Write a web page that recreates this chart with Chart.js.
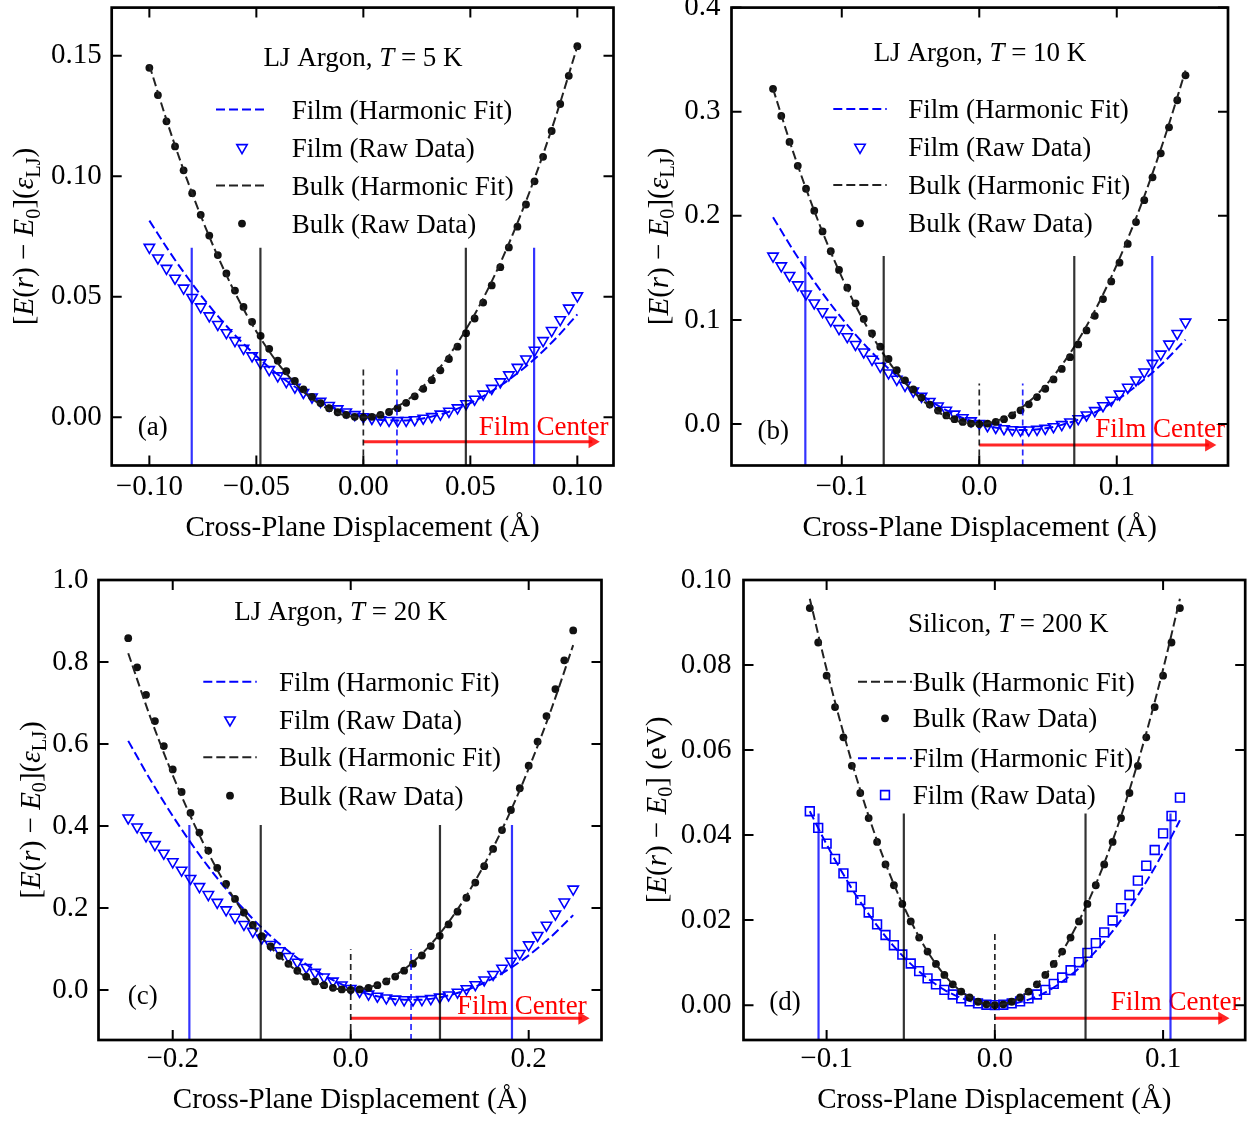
<!DOCTYPE html>
<html>
<head>
<meta charset="utf-8">
<title>Harmonic fits, film vs bulk</title>
<script src="https://cdn.jsdelivr.net/npm/chart.js@4.4.1/dist/chart.umd.min.js"></script>
<style>
  body { margin: 0; background: #fff; }
  #wrap { position: relative; width: 1253px; height: 1122px; }
  canvas { position: absolute; }
</style>
</head>
<body>
<div id="wrap">
  <canvas id="panelA" width="626" height="561" style="left:0;top:0"></canvas>
  <canvas id="panelB" width="627" height="561" style="left:626px;top:0"></canvas>
  <canvas id="panelC" width="626" height="561" style="left:0;top:561px"></canvas>
  <canvas id="panelD" width="627" height="561" style="left:626px;top:561px"></canvas>
</div>
<script>
// ---------- (a) LJ Argon, T = 5 K ----------
const xA = [-0.100,-0.096,-0.092,-0.088,-0.084,-0.080,-0.076,-0.072,-0.068,-0.064,-0.060,-0.056,-0.052,-0.048,-0.044,-0.040,-0.036,-0.032,-0.028,-0.024,-0.020,-0.016,-0.012,-0.008,-0.004,0,0.004,0.008,0.012,0.016,0.020,0.024,0.028,0.032,0.036,0.040,0.044,0.048,0.052,0.056,0.060,0.064,0.068,0.072,0.076,0.080,0.084,0.088,0.092,0.096,0.100];
const bulkRawA = [0.1450,0.1337,0.1228,0.1124,0.1025,0.0930,0.0840,0.0754,0.0673,0.0597,0.0526,0.0458,0.0396,0.0338,0.0284,0.0235,0.0191,0.0151,0.0116,0.0085,0.0059,0.0038,0.0021,0.0010,0.0002,0,0.0002,0.0010,0.0022,0.0038,0.0060,0.0087,0.0118,0.0154,0.0195,0.0242,0.0293,0.0349,0.0410,0.0476,0.0547,0.0623,0.0705,0.0791,0.0883,0.0979,0.1081,0.1188,0.1300,0.1417,0.1540];
const filmRawA = [0.0705,0.0661,0.0618,0.0577,0.0536,0.0497,0.0458,0.0421,0.0385,0.0351,0.0318,0.0286,0.0255,0.0226,0.0198,0.0172,0.0148,0.0125,0.0103,0.0084,0.0066,0.0049,0.0035,0.0022,0.0011,0.0002,-0.0005,-0.0010,-0.0013,-0.0014,-0.0013,-0.0010,-0.0004,0.0003,0.0013,0.0025,0.0039,0.0056,0.0075,0.0096,0.0120,0.0147,0.0176,0.0207,0.0242,0.0278,0.0318,0.0360,0.0405,0.0453,0.0504];
const fitXA = [-0.10,-0.09,-0.08,-0.07,-0.06,-0.05,-0.04,-0.03,-0.02,-0.01,0,0.01,0.02,0.03,0.04,0.05,0.06,0.07,0.08,0.09,0.10];
const bulkFitA = [0.1461,0.1180,0.0929,0.0708,0.0517,0.0356,0.0225,0.0124,0.0052,0.0011,0.0000,0.0019,0.0068,0.0147,0.0256,0.0395,0.0564,0.0763,0.0991,0.1250,0.1539];
const filmFitA = [0.0816,0.0679,0.0554,0.0441,0.0341,0.0254,0.0178,0.0115,0.0065,0.0027,0.0001,-0.0012,-0.0013,-0.0001,0.0023,0.0059,0.0108,0.0169,0.0242,0.0328,0.0427];
const xTicksA = [-0.10, -0.05, 0.00, 0.05, 0.10];
const xLabelsA = ['\u22120.10', '\u22120.05', '0.00', '0.05', '0.10'];
const yTicksA = [0.00, 0.05, 0.10, 0.15];
const yLabelsA = ['0.00', '0.05', '0.10', '0.15'];
const filmEdgeA = [-0.0802, 0.0798];
const bulkEdgeA = [-0.0481, 0.0479];
const centersA = [0, 0.0157];   // bulk center, film center

// ---------- (b) LJ Argon, T = 10 K ----------
const xB = [-0.150,-0.144,-0.138,-0.132,-0.126,-0.120,-0.114,-0.108,-0.102,-0.096,-0.090,-0.084,-0.078,-0.072,-0.066,-0.060,-0.054,-0.048,-0.042,-0.036,-0.030,-0.024,-0.018,-0.012,-0.006,0,0.006,0.012,0.018,0.024,0.030,0.036,0.042,0.048,0.054,0.060,0.066,0.072,0.078,0.084,0.090,0.096,0.102,0.108,0.114,0.120,0.126,0.132,0.138,0.144,0.150];
const bulkRawB = [0.322,0.296,0.271,0.248,0.226,0.205,0.185,0.166,0.148,0.131,0.116,0.101,0.087,0.0743,0.0625,0.0517,0.0420,0.0332,0.0254,0.0187,0.0130,0.0083,0.0047,0.0021,0.0005,0,0.0005,0.0021,0.0047,0.0084,0.0132,0.0190,0.0259,0.0339,0.0429,0.0530,0.0642,0.0765,0.0899,0.104,0.120,0.137,0.155,0.173,0.194,0.215,0.237,0.260,0.285,0.311,0.335];
const filmRawB = [0.1613,0.1519,0.1427,0.1337,0.1249,0.1163,0.1079,0.0996,0.0917,0.0839,0.0764,0.0692,0.0622,0.0555,0.0491,0.0430,0.0372,0.0317,0.0266,0.0217,0.0173,0.0132,0.0095,0.0061,0.0031,0.0006,-0.0016,-0.0033,-0.0045,-0.0054,-0.0058,-0.0057,-0.0051,-0.0041,-0.0026,-0.0005,0.0020,0.0051,0.0087,0.0129,0.0176,0.0229,0.0288,0.0353,0.0423,0.0500,0.0583,0.0672,0.0768,0.0870,0.0979];
const fitXB = [-0.150,-0.135,-0.120,-0.105,-0.090,-0.075,-0.060,-0.045,-0.030,-0.015,0,0.015,0.030,0.045,0.060,0.075,0.090,0.105,0.120,0.135,0.150];
const bulkFitB = [0.3220,0.2600,0.2047,0.1560,0.1138,0.0783,0.0495,0.0272,0.0115,0.0025,0.0001,0.0042,0.0151,0.0325,0.0565,0.0872,0.1244,0.1683,0.2188,0.2759,0.3396];
const filmFitB = [0.1987,0.1663,0.1367,0.1099,0.0859,0.0647,0.0462,0.0306,0.0177,0.0077,0.0004,-0.0041,-0.0058,-0.0047,-0.0008,0.0059,0.0153,0.0276,0.0427,0.0605,0.0811];
const xTicksB = [-0.1, 0.0, 0.1];
const xLabelsB = ['\u22120.1', '0.0', '0.1'];
const yTicksB = [0.0, 0.1, 0.2, 0.3, 0.4];
const yLabelsB = ['0.0', '0.1', '0.2', '0.3', '0.4'];
const filmEdgeB = [-0.1265, 0.1258];
const bulkEdgeB = [-0.0695, 0.0691];
const centersB = [0, 0.0316];

// ---------- (c) LJ Argon, T = 20 K ----------
const xC = [-0.25,-0.24,-0.23,-0.22,-0.21,-0.20,-0.19,-0.18,-0.17,-0.16,-0.15,-0.14,-0.13,-0.12,-0.11,-0.10,-0.09,-0.08,-0.07,-0.06,-0.05,-0.04,-0.03,-0.02,-0.01,0,0.01,0.02,0.03,0.04,0.05,0.06,0.07,0.08,0.09,0.10,0.11,0.12,0.13,0.14,0.15,0.16,0.17,0.18,0.19,0.20,0.21,0.22,0.23,0.24,0.25];
const bulkRawC = [0.858,0.787,0.720,0.656,0.595,0.538,0.483,0.432,0.384,0.340,0.298,0.259,0.222,0.189,0.159,0.131,0.106,0.0835,0.0638,0.0469,0.0325,0.0208,0.0117,0.0052,0.0013,0,0.0013,0.0052,0.0117,0.0209,0.0327,0.0471,0.0642,0.0841,0.107,0.132,0.160,0.191,0.225,0.262,0.302,0.344,0.390,0.439,0.492,0.547,0.606,0.668,0.734,0.804,0.877];
const filmRawC = [0.4195,0.3977,0.3760,0.3546,0.3335,0.3127,0.2922,0.2720,0.2522,0.2328,0.2138,0.1953,0.1773,0.1598,0.1429,0.1266,0.1109,0.0958,0.0815,0.0678,0.0550,0.0430,0.0318,0.0215,0.0121,0.0037,-0.0037,-0.0101,-0.0153,-0.0194,-0.0223,-0.0240,-0.0244,-0.0234,-0.0211,-0.0174,-0.0122,-0.0054,0.0029,0.0129,0.0245,0.0379,0.0531,0.0701,0.0891,0.1100,0.1329,0.1579,0.1851,0.2145,0.2461];
const fitXC = [-0.250,-0.225,-0.200,-0.175,-0.150,-0.125,-0.100,-0.075,-0.050,-0.025,0,0.025,0.050,0.075,0.100,0.125,0.150,0.175,0.200,0.225,0.250];
const bulkFitC = [0.8213,0.6644,0.5241,0.4004,0.2933,0.2029,0.1290,0.0719,0.0313,0.0073,0.0000,0.0093,0.0353,0.0778,0.1370,0.2128,0.3053,0.4143,0.5400,0.6823,0.8413];
const filmFitC = [0.6076,0.5122,0.4245,0.3447,0.2726,0.2084,0.1520,0.1034,0.0626,0.0297,0.0045,-0.0128,-0.0224,-0.0241,-0.0180,-0.0041,0.0176,0.0472,0.0845,0.1297,0.1826];
const xTicksC = [-0.2, 0.0, 0.2];
const xLabelsC = ['\u22120.2', '0.0', '0.2'];
const yTicksC = [0.0, 0.2, 0.4, 0.6, 0.8, 1.0];
const yLabelsC = ['0.0', '0.2', '0.4', '0.6', '0.8', '1.0'];
const filmEdgeC = [-0.1813, 0.1812];
const bulkEdgeC = [-0.1011, 0.1003];
const centersC = [0, 0.0678];

// ---------- (d) Silicon, T = 200 K ----------
const xD = [-0.110,-0.105,-0.100,-0.095,-0.090,-0.085,-0.080,-0.075,-0.070,-0.065,-0.060,-0.055,-0.050,-0.045,-0.040,-0.035,-0.030,-0.025,-0.020,-0.015,-0.010,-0.005,0,0.005,0.010,0.015,0.020,0.025,0.030,0.035,0.040,0.045,0.050,0.055,0.060,0.065,0.070,0.075,0.080,0.085,0.090,0.095,0.100,0.105,0.110];
const bulkRawD = [0.0934,0.0853,0.0775,0.0701,0.0630,0.0563,0.0499,0.0440,0.0384,0.0331,0.0282,0.0238,0.0197,0.0159,0.0126,0.0097,0.0071,0.0049,0.0032,0.0018,0.0008,0.0002,0,0.0002,0.0008,0.0018,0.0032,0.0049,0.0071,0.0097,0.0126,0.0159,0.0197,0.0238,0.0282,0.0331,0.0384,0.0440,0.0499,0.0563,0.0630,0.0701,0.0775,0.0853,0.0934];
const filmRawD = [0.0456,0.0417,0.0380,0.0344,0.0310,0.0278,0.0247,0.0218,0.0190,0.0165,0.0141,0.0119,0.0098,0.0080,0.0063,0.0049,0.0036,0.0025,0.0016,0.0009,0.0004,0.0001,0,0.0001,0.0004,0.0009,0.0016,0.0025,0.0036,0.0050,0.0065,0.0082,0.0101,0.0123,0.0146,0.0171,0.0199,0.0228,0.0259,0.0293,0.0328,0.0365,0.0404,0.0445,0.0488];
const fitXD = [-0.11,-0.10,-0.09,-0.08,-0.07,-0.06,-0.05,-0.04,-0.03,-0.02,-0.01,0,0.01,0.02,0.03,0.04,0.05,0.06,0.07,0.08,0.09,0.10,0.11];
const bulkFitD = [0.0956,0.0790,0.0640,0.0506,0.0387,0.0284,0.0198,0.0126,0.0071,0.0032,0.0008,0,0.0008,0.0032,0.0071,0.0126,0.0198,0.0284,0.0387,0.0506,0.0640,0.0790,0.0956];
const filmFitD = [0.0456,0.0378,0.0307,0.0243,0.0187,0.0138,0.0097,0.0063,0.0036,0.0017,0.0005,0.0000,0.0003,0.0013,0.0030,0.0055,0.0087,0.0127,0.0174,0.0228,0.0290,0.0359,0.0435];
const xTicksD = [-0.1, 0.0, 0.1];
const xLabelsD = ['\u22120.1', '0.0', '0.1'];
const yTicksD = [0.00, 0.02, 0.04, 0.06, 0.08, 0.10];
const yLabelsD = ['0.00', '0.02', '0.04', '0.06', '0.08', '0.10'];
const filmEdgeD = [-0.1048, 0.1044];
const bulkEdgeD = [-0.0541, 0.0539];
const centersD = [0];

const SERIF = '"Liberation Serif", "Times New Roman", serif';
const BLUE = '#0000ff';
const TXT = 27;   // legend, in-plot title and notes
const LJ_LABEL = [{t: '['}, {t: 'E', it: 1}, {t: '('}, {t: 'r', it: 1}, {t: ') \u2212 '}, {t: 'E', it: 1}, {t: '0', sub: 1}, {t: ']('}, {t: '\u03b5', it: 1}, {t: 'LJ', sub: 1}, {t: ')'}];
const SI_LABEL = [{t: '['}, {t: 'E', it: 1}, {t: '('}, {t: 'r', it: 1}, {t: ') \u2212 '}, {t: 'E', it: 1}, {t: '0', sub: 1}, {t: '] (eV)'}];
const LJ_ROWS = ['Film (Harmonic Fit)', 'Film (Raw Data)', 'Bulk (Harmonic Fit)', 'Bulk (Raw Data)'];
const SI_ROWS = ['Bulk (Harmonic Fit)', 'Bulk (Raw Data)', 'Film (Harmonic Fit)', 'Film (Raw Data)'];

function font(size, italic) {
  return (italic ? 'italic ' : '') + size + 'px ' + SERIF;
}

function drawRich(ctx, parts, x, y, size) {
  ctx.textAlign = 'left';
  ctx.textBaseline = 'alphabetic';
  let w = 0;
  parts.forEach(p => { ctx.font = font(p.sub ? size * 0.7 : size, p.it); w += ctx.measureText(p.t).width; });
  let cx = x - w / 2;
  parts.forEach(p => {
    ctx.font = font(p.sub ? size * 0.7 : size, p.it);
    ctx.fillText(p.t, cx, y + (p.sub ? size * 0.22 : 0));
    cx += ctx.measureText(p.t).width;
  });
}

// same geometry as the library's point styles, used for the legend handles
function drawMarker(ctx, d, x, y) {
  const r = d.pointRadius, rad = (d.pointRotation || 0) * Math.PI / 180;
  ctx.save();
  ctx.beginPath();
  if (d.pointStyle === 'triangle') {
    let a = rad;
    ctx.moveTo(x + Math.sin(a) * r, y - Math.cos(a) * r);
    a += 2 * Math.PI / 3;
    ctx.lineTo(x + Math.sin(a) * r, y - Math.cos(a) * r);
    a += 2 * Math.PI / 3;
    ctx.lineTo(x + Math.sin(a) * r, y - Math.cos(a) * r);
    ctx.closePath();
  } else if (d.pointStyle === 'rect') {
    const s = r * Math.SQRT1_2;
    ctx.rect(x - s, y - s, 2 * s, 2 * s);
  } else {
    ctx.arc(x, y, r, 0, 2 * Math.PI);
  }
  ctx.fillStyle = d.pointBackgroundColor;
  ctx.fill();
  if (d.pointBorderWidth > 0) {
    ctx.lineWidth = d.pointBorderWidth;
    ctx.strokeStyle = d.pointBorderColor;
    ctx.stroke();
  }
  ctx.restore();
}

function makeDecor(cfg) {
  return {
    id: 'decor' + cfg.id,
    beforeDatasetsDraw(chart) {
      const {ctx, chartArea: a} = chart;
      ctx.save();
      ctx.fillStyle = '#ff0000';
      ctx.font = font(TXT);
      ctx.textAlign = 'right';
      ctx.textBaseline = 'alphabetic';
      ctx.fillText('Film Center', a.right + cfg.fcPos[0], a.bottom + cfg.fcPos[1]);
      ctx.restore();
    },
    afterDatasetsDraw(chart) {
      const {ctx, chartArea: a, scales} = chart;
      ctx.save();
      // box
      ctx.strokeStyle = '#000';
      ctx.lineWidth = 2.7;
      ctx.strokeRect(a.left, a.top, a.right - a.left, a.bottom - a.top);
      // ticks pointing in, all four sides
      ctx.lineWidth = 2;
      ctx.beginPath();
      cfg.xTicks.forEach(v => {
        const px = scales.x.getPixelForValue(v);
        ctx.moveTo(px, a.bottom); ctx.lineTo(px, a.bottom - 10);
        ctx.moveTo(px, a.top); ctx.lineTo(px, a.top + 10);
      });
      cfg.yTicks.forEach(v => {
        const py = scales.y.getPixelForValue(v);
        ctx.moveTo(a.left, py); ctx.lineTo(a.left + 10, py);
        ctx.moveTo(a.right, py); ctx.lineTo(a.right - 10, py);
      });
      ctx.stroke();

      ctx.fillStyle = '#000';
      ctx.font = font(TXT);
      ctx.textAlign = 'center';
      ctx.textBaseline = 'alphabetic';
      ctx.fillText(cfg.letter, a.left + cfg.letterPos[0], a.bottom + cfg.letterPos[1]);

      drawRich(ctx, cfg.title, a.left + cfg.titlePos[0], a.top + cfg.titlePos[1], TXT);

      // legend, styled from the datasets themselves
      const lg = cfg.legend;
      lg.rows.forEach((name, i) => {
        const d = chart.data.datasets.find(s => s.label === name);
        const y = a.top + lg.y[i];
        if (d.showLine) {
          ctx.save();
          ctx.strokeStyle = d.borderColor;
          ctx.lineWidth = d.borderWidth;
          ctx.setLineDash(d.borderDash);
          ctx.beginPath();
          ctx.moveTo(a.left + lg.h0, y);
          ctx.lineTo(a.left + lg.h1, y);
          ctx.stroke();
          ctx.restore();
        } else {
          drawMarker(ctx, d, a.left + (lg.h0 + lg.h1) / 2, y);
        }
        ctx.fillStyle = '#000';
        ctx.font = font(TXT);
        ctx.textAlign = 'left';
        ctx.fillText(name, a.left + lg.tx, y + 0.33 * TXT);
      });

      // y axis title (mixed italic / subscript)
      ctx.translate(a.left + cfg.yTitleX, (a.top + a.bottom) / 2);
      ctx.rotate(-Math.PI / 2);
      drawRich(ctx, cfg.yTitle, 0, 0.33 * 29, 29);
      ctx.restore();
    }
  };
}

function pts(xs, ys) {
  return xs.map((x, i) => ({x: x, y: ys[i]}));
}

function buildPanel(cfg) {
  const yMin = cfg.yRange[0];
  const ds = [];
  const vline = (x, top, color, dashed) => ({
    label: '', data: [{x: x, y: yMin}, {x: x, y: top}], showLine: true,
    borderColor: color, borderWidth: dashed ? 1.7 : 2.2, borderDash: dashed ? [6, 4] : [],
    pointRadius: 0
  });
  cfg.filmEdge.forEach(x => ds.push(vline(x, cfg.edgeTop, 'rgba(0,0,255,0.8)', false)));
  cfg.bulkEdge.forEach(x => ds.push(vline(x, cfg.edgeTop, 'rgba(0,0,0,0.8)', false)));
  ds.push(vline(cfg.centers[0], cfg.centerTop, 'rgba(0,0,0,0.85)', true));
  if (cfg.centers.length > 1) ds.push(vline(cfg.centers[1], cfg.centerTop, 'rgba(0,0,255,0.85)', true));

  // film centre arrow
  ds.push({
    label: '', data: [{x: cfg.arrowX[0], y: cfg.arrowY}, {x: cfg.arrowX[1], y: cfg.arrowY}],
    showLine: true, borderColor: 'rgba(255,0,0,0.85)', borderWidth: 3,
    pointRadius: [0, 7.5], pointStyle: 'triangle', pointRotation: 90,
    pointBackgroundColor: 'rgba(255,0,0,0.85)', pointBorderWidth: 0
  });

  ds.push({
    label: 'Bulk (Harmonic Fit)', data: pts(cfg.fitX, cfg.bulkFit), showLine: true,
    borderColor: '#222', borderWidth: 2, borderDash: [9, 4], pointRadius: 0,
    cubicInterpolationMode: 'monotone'
  });
  ds.push({
    label: 'Bulk (Raw Data)', data: pts(cfg.x, cfg.bulkRaw), showLine: false,
    pointStyle: 'circle', pointRadius: 3.9, pointRotation: 0,
    pointBackgroundColor: '#111', pointBorderColor: '#111', pointBorderWidth: 0
  });
  ds.push({
    label: 'Film (Harmonic Fit)', data: pts(cfg.fitX, cfg.filmFit), showLine: true,
    borderColor: BLUE, borderWidth: 2, borderDash: [9, 4], pointRadius: 0,
    cubicInterpolationMode: 'monotone'
  });
  const tri = cfg.filmMarker === 'triangle';
  ds.push({
    label: 'Film (Raw Data)', data: pts(cfg.x, cfg.filmRaw), showLine: false,
    pointStyle: cfg.filmMarker, pointRotation: tri ? 180 : 0, pointRadius: tri ? 6 : 6.2,
    pointBackgroundColor: 'rgba(0,0,0,0)', pointBorderColor: BLUE, pointBorderWidth: 1.6
  });

  return new Chart(document.getElementById(cfg.id), {
    type: 'scatter',
    data: {datasets: ds},
    options: {
      responsive: false,
      animation: false,
      devicePixelRatio: 1,
      events: [],
      layout: {padding: {left: 0, top: cfg.pad[0], right: cfg.pad[1], bottom: 0}},
      plugins: {legend: {display: false}, tooltip: {enabled: false}},
      scales: {
        x: {
          type: 'linear', min: cfg.xRange[0], max: cfg.xRange[1],
          grid: {display: false, drawTicks: false},
          border: {display: false},
          afterBuildTicks: s => { s.ticks = cfg.xTicks.map(v => ({value: v})); },
          afterFit: s => { s.height = cfg.xH; s.paddingLeft = 0; s.paddingRight = 0; },
          ticks: {
            autoSkip: false, maxRotation: 0, minRotation: 0, padding: cfg.xPad, color: '#000',
            font: {family: SERIF, size: 29},
            callback: (v, i) => cfg.xLabels[i]
          },
          title: {
            display: true, text: 'Cross-Plane Displacement (\u00c5)', color: '#000',
            font: {family: SERIF, size: 29}, padding: {top: 0, bottom: cfg.titlePad}
          }
        },
        y: {
          type: 'linear', min: cfg.yRange[0], max: cfg.yRange[1],
          grid: {display: false, drawTicks: false},
          border: {display: false},
          afterBuildTicks: s => { s.ticks = cfg.yTicks.map(v => ({value: v})); },
          afterFit: s => { s.width = cfg.yW; s.paddingTop = 0; s.paddingBottom = 0; },
          ticks: {
            autoSkip: false, padding: cfg.yPad, color: '#000',
            font: {family: SERIF, size: 29},
            callback: (v, i) => cfg.yLabels[i]
          }
        }
      }
    },
    plugins: [makeDecor(cfg)]
  });
}

buildPanel({
  id: 'panelA', x: xA, bulkRaw: bulkRawA, filmRaw: filmRawA, fitX: fitXA, bulkFit: bulkFitA, filmFit: filmFitA,
  xRange: [-0.1176, 0.1169], yRange: [-0.0200, 0.170],
  xTicks: xTicksA, xLabels: xLabelsA, yTicks: yTicksA, yLabels: yLabelsA,
  filmEdge: filmEdgeA, bulkEdge: bulkEdgeA, centers: centersA, edgeTop: 0.0704, centerTop: 0.0199,
  arrowX: [0, 0.107], arrowY: -0.0101, filmMarker: 'triangle',
  pad: [7, 12.5], yW: 111.7, xH: 95.5, xPad: 4, yPad: 10, titlePad: 15,
  fcPos: [-5, -30.5], letter: '(a)', letterPos: [41, -31],
  title: [{t: 'LJ Argon, '}, {t: 'T', it: 1}, {t: ' = 5 K'}], titlePos: [251.3, 58.3],
  legend: {rows: LJ_ROWS, y: [102, 140, 178, 216], h0: 104.3, h1: 156.3, tx: 180},
  yTitle: LJ_LABEL, yTitleX: -88
});

buildPanel({
  id: 'panelB', x: xB, bulkRaw: bulkRawB, filmRaw: filmRawB, fitX: fitXB, bulkFit: bulkFitB, filmFit: filmFitB,
  xRange: [-0.1802, 0.1809], yRange: [-0.0398, 0.4],
  xTicks: xTicksB, xLabels: xLabelsB, yTicks: yTicksB, yLabels: yLabelsB,
  filmEdge: filmEdgeB, bulkEdge: bulkEdgeB, centers: centersB, edgeTop: 0.1615, centerTop: 0.039,
  arrowX: [0, 0.167], arrowY: -0.0202, filmMarker: 'triangle',
  pad: [7, 25], yW: 105.5, xH: 95.5, xPad: 4, yPad: 11, titlePad: 15,
  fcPos: [-3, -28.5], letter: '(b)', letterPos: [41.8, -27],
  title: [{t: 'LJ Argon, '}, {t: 'T', it: 1}, {t: ' = 10 K'}], titlePos: [248.5, 53.3],
  legend: {rows: LJ_ROWS, y: [101.3, 139.7, 177.3, 215.7], h0: 101.8, h1: 155.2, tx: 176.8},
  yTitle: LJ_LABEL, yTitleX: -73.5
});

buildPanel({
  id: 'panelC', x: xC, bulkRaw: bulkRawC, filmRaw: filmRawC, fitX: fitXC, bulkFit: bulkFitC, filmFit: filmFitC,
  xRange: [-0.2834, 0.2818], yRange: [-0.122, 1.0],
  xTicks: xTicksC, xLabels: xLabelsC, yTicks: yTicksC, yLabels: yLabelsC,
  filmEdge: filmEdgeC, bulkEdge: bulkEdgeC, centers: centersC, edgeTop: 0.4024, centerTop: 0.0992,
  arrowX: [0, 0.260], arrowY: -0.069, filmMarker: 'triangle',
  pad: [19, 24.5], yW: 98.5, xH: 82, xPad: 2, yPad: 10, titlePad: 4,
  fcPos: [-14.8, -26.4], letter: '(c)', letterPos: [44.2, -36.4],
  title: [{t: 'LJ Argon, '}, {t: 'T', it: 1}, {t: ' = 20 K'}], titlePos: [242.2, 40.3],
  legend: {rows: LJ_ROWS, y: [101.7, 140, 177.3, 215.7], h0: 104.8, h1: 158.2, tx: 180.5},
  yTitle: LJ_LABEL, yTitleX: -68.5
});

buildPanel({
  id: 'panelD', x: xD, bulkRaw: bulkRawD, filmRaw: filmRawD, fitX: fitXD, bulkFit: bulkFitD, filmFit: filmFitD,
  xRange: [-0.1494, 0.1488], yRange: [-0.0082, 0.10],
  xTicks: xTicksD, xLabels: xLabelsD, yTicks: yTicksD, yLabels: yLabelsD,
  filmEdge: filmEdgeD, bulkEdge: bulkEdgeD, centers: centersD, edgeTop: 0.0451, centerTop: 0.0176,
  arrowX: [0, 0.135], arrowY: -0.0031, filmMarker: 'rect',
  pad: [19, 7.5], yW: 117.5, xH: 82, xPad: 2, yPad: 12, titlePad: 4,
  fcPos: [-4.8, -29.7], letter: '(d)', letterPos: [41.5, -29.7],
  title: [{t: 'Silicon, '}, {t: 'T', it: 1}, {t: ' = 200 K'}], titlePos: [264.8, 51.9],
  legend: {rows: SI_ROWS, y: [101.7, 138.3, 178.3, 215], h0: 114.5, h1: 168.5, tx: 169.2},
  yTitle: SI_LABEL, yTitleX: -87
});
</script>
</body>
</html>
